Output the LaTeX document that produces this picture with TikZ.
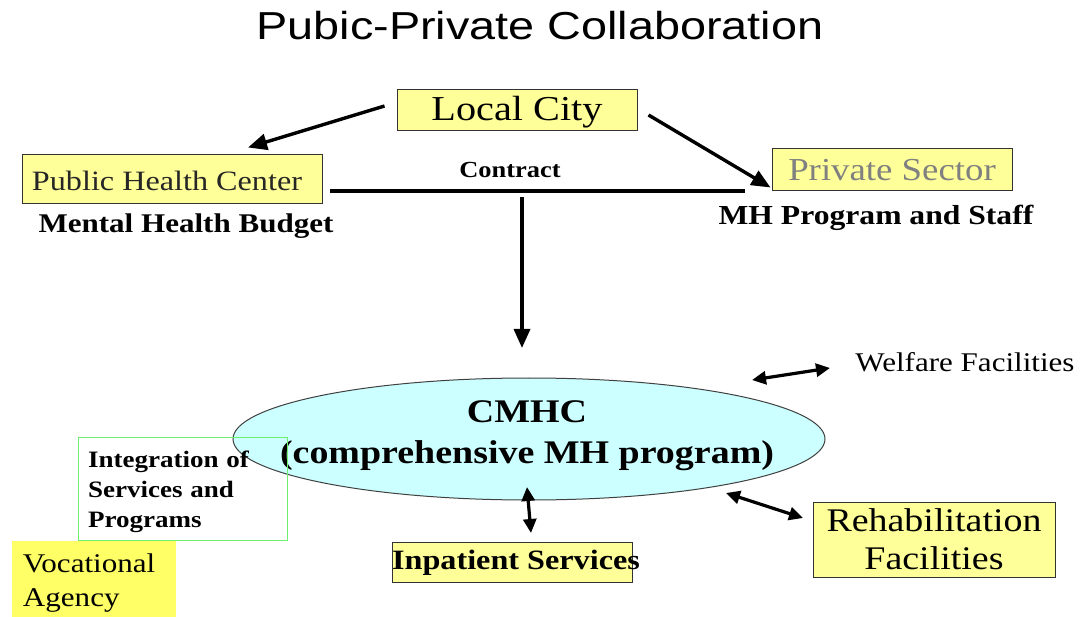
\documentclass[tikz,border=0pt]{standalone}
\usepackage{fontspec}
\setmainfont{Liberation Serif}[FakeStretch=1.15]
\newfontfamily\titlefont{Liberation Sans}[FakeStretch=1.2]
\usetikzlibrary{arrows.meta,shapes.geometric}
\definecolor{boxyellow}{RGB}{255,255,153}
\definecolor{brightyellow}{RGB}{255,255,102}
\definecolor{lightcyan}{RGB}{204,255,255}
\definecolor{lightgreen}{RGB}{110,240,110}
\definecolor{textgray}{RGB}{128,128,128}
\tikzset{
  ybox/.style={draw=black!80, line width=1pt, fill=boxyellow, inner sep=0pt},
  conn/.style={line width=3.4pt, -{Triangle[length=19pt,width=16pt]}},
  twoway/.style={line width=3.2pt, {Triangle[length=14pt,width=13pt]}-{Triangle[length=14pt,width=13pt]}},
  plainline/.style={line width=3.2pt},
}
\begin{document}
\begin{tikzpicture}[x=1pt,y=-1pt]
  \useasboundingbox[fill=white] (0,0) rectangle (1084,617);

  % title
  \node[font=\titlefont\fontsize{39}{44}\selectfont] (title) at (540,26) {Pubic-Private Collaboration};

  % top row of boxes
  \node[ybox, minimum width=240, minimum height=41] (city) at (517,110.5) {};
  \node[font=\fontsize{35}{40}\selectfont] (citytext) at (517,112.5) {Local City};
  \node[ybox, minimum width=300, minimum height=49] (phc) at (172,179.5) {};
  \node[font=\fontsize{28}{32}\selectfont, text=black!85] (phctext) at (167,181) {Public Health Center};
  \node[ybox, minimum width=240, minimum height=42, font=\fontsize{32}{36}\selectfont, text=textgray] (priv) at (892,170)
    {Private Sector};

  \node[font=\fontsize{27}{31}\selectfont\bfseries] (budget) at (186,226) {Mental Health Budget};
  \node[font=\fontsize{27.5}{31}\selectfont\bfseries] (staff) at (876,218) {MH Program and Staff};
  \node[font=\fontsize{23}{27}\selectfont\bfseries] (contract) at (510,170) {Contract};

  % contract line and downward arrow
  \coordinate (cl) at (330,191);
  \coordinate (cr) at (745,191);
  \coordinate (dtop) at (522,197);
  \coordinate (dend) at (522,348);
  \draw[plainline] (cl) -- (cr);
  \draw[conn] (dtop) -- (dend);

  % city to the two partners
  \draw[conn] ([shift={(-12,-4.5)}]city.west) -- ([shift={(76,-7)}]phc.north);
  \draw[conn] ([shift={(11,4.5)}]city.east) -- ([shift={(-1,-4)}]priv.south west);

  % centre ellipse and its text
  \node[ellipse, draw=black!75, line width=1pt, fill=lightcyan,
        minimum width=592, minimum height=122, inner sep=0pt] (cmhc) at (529,439) {};
  \node[align=center, font=\fontsize{33}{41}\selectfont\bfseries] (cmhctext) at (527,436)
    {CMHC\\(comprehensive MH program)};

  % integration box over the ellipse edge
  \node[draw=lightgreen, line width=1pt, minimum width=209, minimum height=103,
        text width=189, inner xsep=10pt, align=left,
        font=\fontsize{23.5}{30}\selectfont\bfseries] (integ) at (182.5,488.5) {};
  \node[text width=189, align=left, font=\fontsize{23.5}{30}\selectfont\bfseries,
        anchor=center] (integtext) at (182.5,492)
    {Integration of\\Services and\\Programs};

  % vocational agency
  \node[fill=brightyellow, minimum width=164, minimum height=76] (voc) at (94,579) {};
  \node[text width=142, align=left, font=\fontsize{27}{34}\selectfont] (voctext) at (94,583)
    {Vocational\\Agency};

  % inpatient services
  \node[ybox, minimum width=240, minimum height=40] (inp) at (512,562) {};
  \node[font=\fontsize{28}{32}\selectfont\bfseries] (inptext) at (516,563) {Inpatient Services};

  % rehabilitation facilities
  \node[ybox, minimum width=242, minimum height=75, align=center,
        font=\fontsize{33}{38}\selectfont] (rehab) at (934,539.5)
    {Rehabilitation\\Facilities};

  % welfare facilities
  \node[font=\fontsize{27}{31}\selectfont] (welfare) at (965,362) {Welfare Facilities};

  % two-way links
  \coordinate (wa) at (752,380);
  \coordinate (wb) at (830,368);
  \coordinate (ra) at (726,493);
  \coordinate (rb) at (803,518);
  \coordinate (ia) at (527,487);
  \coordinate (ib) at (531,533);
  \draw[twoway] (wa) -- (wb);
  \draw[twoway] (ra) -- (rb);
  \draw[twoway] (ia) -- (ib);
\end{tikzpicture}
\end{document}
